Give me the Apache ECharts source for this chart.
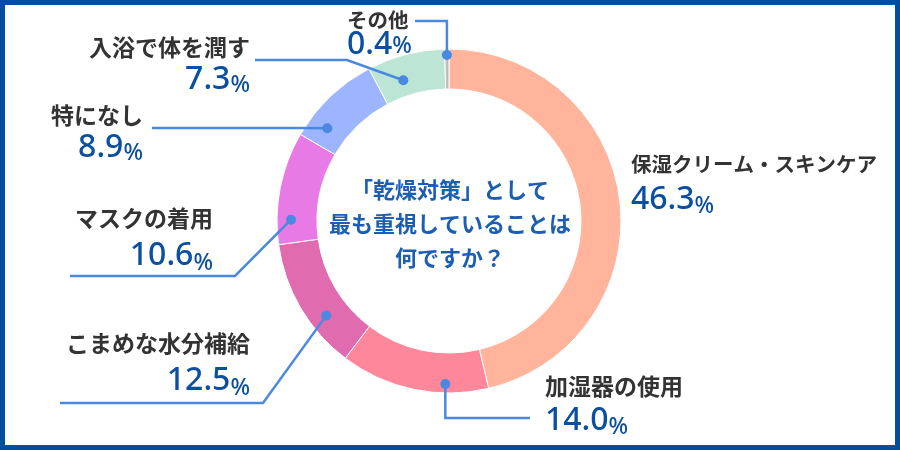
<!DOCTYPE html>
<html>
<head>
<meta charset="utf-8">
<script src="https://cdn.jsdelivr.net/npm/echarts@6/dist/echarts.min.js"></script>
<style>
  html, body { margin: 0; padding: 0; background: #fff; }
  #chart { width: 900px; height: 450px; }
</style>
</head>
<body>
<div id="chart"></div>
<script>
// データ
var names = ['保湿クリーム・スキンケア', '加湿器の使用', 'こまめな水分補給', 'マスクの着用', '特になし', '入浴で体を潤す', 'その他'];
var values = [46.3, 14.0, 12.5, 10.6, 8.9, 7.3, 0.4];
var colors = ['#FFB49B', '#FF879C', '#E06BAE', '#E87AE6', '#9DB4FF', '#BCE5D5', '#BDBDBD'];

// ラベル位置 [x, 名前のy, 数値のy, 揃え, 名前の文字サイズ]
var labelPos = [
  [631, 164, 200, 'left', 20.5],
  [545, 386, 421, 'left', 23],
  [250, 343, 381, 'right', 23],
  [213, 218, 256, 'right', 23],
  [143, 115, 148, 'right', 23],
  [250, 47, 80, 'right', 23],
  [347, 20, 45, 'left', 20.5]
];
// 引き出し線の起点 [扇形内の位置, 半径]
var anchors = [null, [0.29, 163], [0.34, 155], [0.22, 158], [0.22, 153], [0.37, 148], [0.5, 166]];
// 引き出し線の折れ点
var leaders = [
  null,
  { type: 'v', y: 418, end: 530 },
  { type: 'd', tx: 263, y: 403, end: 60 },
  { type: 'd', tx: 235, y: 276, end: 70 },
  { type: 'd', tx: 300, y: 128, end: 152 },
  { type: 'd', tx: 347, y: 60, end: 255 },
  { type: 'v', y: 21, end: 415 }
];

var cx = 449, cy = 221;
var lineColor = '#4A89E0';

function makeRich (gap, nameSize) {
  return {
    n: { fontSize: nameSize, color: '#333', fontWeight: 'bold', lineHeight: gap, fontFamily: 'Noto Sans CJK JP' },
    v: { fontSize: 32, color: '#0B4FA2', fontWeight: 500, lineHeight: gap, fontFamily: 'Noto Sans' },
    p: { fontSize: 23, color: '#0B4FA2', fontWeight: 500, lineHeight: gap, fontFamily: 'Noto Sans', verticalAlign: 'bottom' }
  };
}

var total = values.reduce(function (a, b) { return a + b; }, 0);

// 枠・引き出し線・ドット
var graphics = [{
  type: 'rect',
  shape: { x: 2.5, y: 2.5, width: 895, height: 445 },
  style: { fill: 'none', stroke: '#004EA2', lineWidth: 5 },
  z: 10
}];
var acc = 0;
values.forEach(function (v, i) {
  var s = acc / total;
  var e = (acc + v) / total;
  acc += v;
  if (!anchors[i]) return;
  var th = 2 * Math.PI * (s + anchors[i][0] * (e - s));
  var r = anchors[i][1];
  var px = cx + r * Math.sin(th);
  var py = cy - r * Math.cos(th);
  var ld = leaders[i];
  var pts = ld.type === 'v'
    ? [[px, py], [px, ld.y], [ld.end, ld.y]]
    : [[px, py], [ld.tx, ld.y], [ld.end, ld.y]];
  graphics.push({
    type: 'polyline',
    shape: { points: pts },
    style: { stroke: lineColor, lineWidth: 2.5, fill: 'none' },
    z: 5
  });
  graphics.push({
    type: 'circle',
    shape: { cx: px, cy: py, r: 5 },
    style: { fill: lineColor },
    z: 6
  });
});

var myChart = echarts.init(document.getElementById('chart'));
var option = {
  backgroundColor: '#fff',
  animation: false,
  title: {
    text: '「乾燥対策」として\n最も重視していることは\n何ですか？',
    left: 'center',
    top: 168,
    textStyle: {
      fontFamily: 'Noto Sans CJK JP',
      fontSize: 22,
      fontWeight: 'bold',
      color: '#1C5EB2',
      lineHeight: 34,
      align: 'center'
    }
  },
  graphic: graphics,
  series: [{
    type: 'pie',
    center: [cx, cy],
    radius: [132, 172],
    startAngle: 90,
    clockwise: true,
    avoidLabelOverlap: false,
    itemStyle: { borderColor: '#fff', borderWidth: 1 },
    label: {
      show: true,
      position: 'outside',
      formatter: function (p) {
        return '{n|' + p.name + '}\n{v|' + values[p.dataIndex].toFixed(1) + '}{p|%}';
      }
    },
    labelLine: { show: false },
    labelLayout: function (params) {
      var lp = labelPos[params.dataIndex];
      var gap = lp[2] - lp[1];
      return {
        x: lp[0],
        y: lp[1] - gap / 2,
        align: lp[3],
        verticalAlign: 'top'
      };
    },
    emphasis: { disabled: true },
    data: names.map(function (n, i) {
      var lp = labelPos[i];
      return {
        name: n,
        value: values[i],
        itemStyle: { color: colors[i] },
        label: { rich: makeRich(lp[2] - lp[1], lp[4]) }
      };
    })
  }]
};
myChart.setOption(option);
</script>
</body>
</html>
